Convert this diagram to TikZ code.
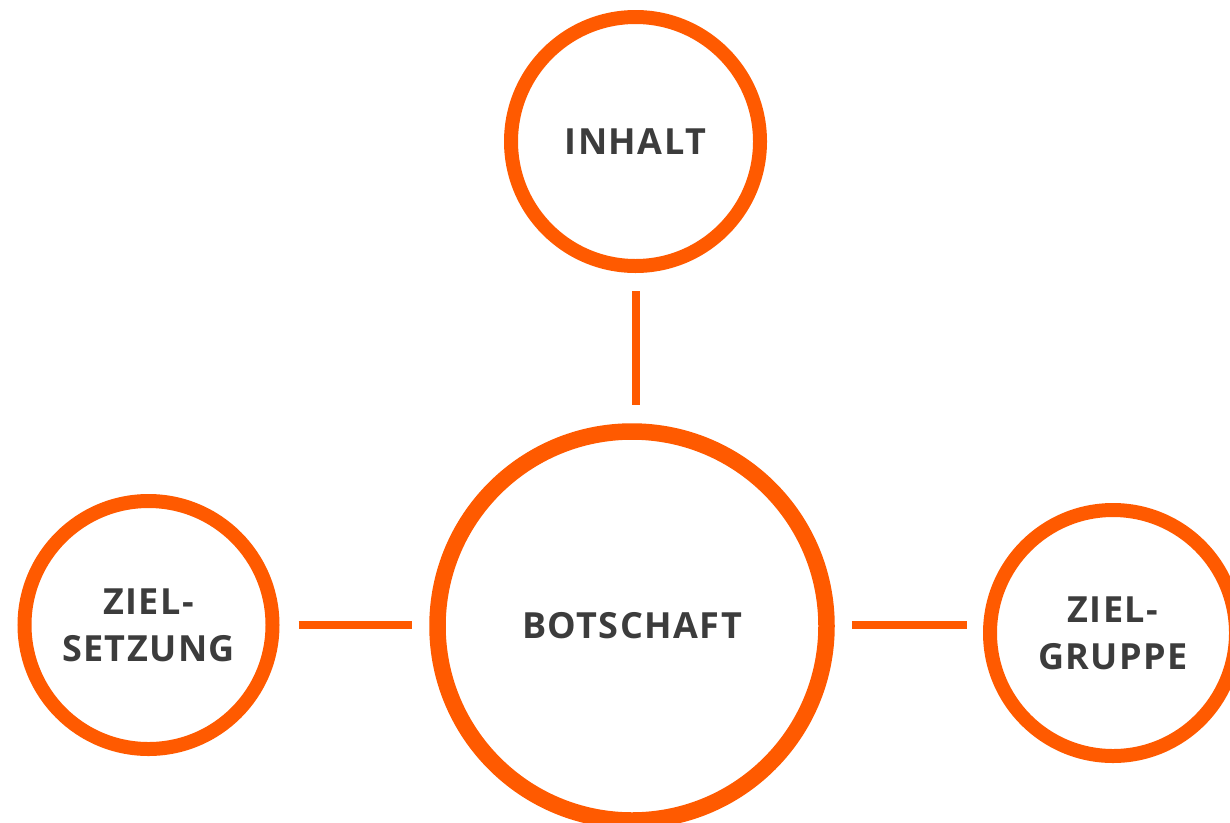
\documentclass[tikz,border=0pt]{standalone}
\usepackage{fontspec}
\setmainfont{Open Sans}[LetterSpace=4]
\definecolor{orng}{HTML}{FF5A00}
\definecolor{txt}{HTML}{3C3C3C}
\begin{document}
\begin{tikzpicture}[x=1pt,y=-1pt,
  ring/.style={circle,draw=orng,line width=14pt,inner sep=0pt,fill=white,
    font=\fontsize{36}{47}\selectfont\bfseries,text=txt,align=center},
  bigring/.style={ring,line width=16.5pt},
  link/.style={draw=orng,line width=8pt}]
\useasboundingbox (0,0) rectangle (1230,822);
\node[ring,minimum size=249pt] (inhalt) at (635.5,141.5) {INHALT};
\node[bigring,minimum size=389pt] (bot) at (632,626) {BOTSCHAFT};
\node[ring,minimum size=248pt] (setz) at (148.5,625) {ZIEL-\\SETZUNG};
\node[ring,minimum size=246pt] (grup) at (1113,633) {ZIEL-\\GRUPPE};
\path[link,shorten <=18pt,shorten >=18pt] (inhalt.south) -- (inhalt.south |- bot.north);
\path[link,shorten <=19pt,shorten >=17pt] (setz.east |- 0,625) -- (bot.west |- 0,625);
\path[link,shorten <=17pt,shorten >=16pt] (bot.east |- 0,625) -- (grup.west |- 0,625);
\end{tikzpicture}
\end{document}
